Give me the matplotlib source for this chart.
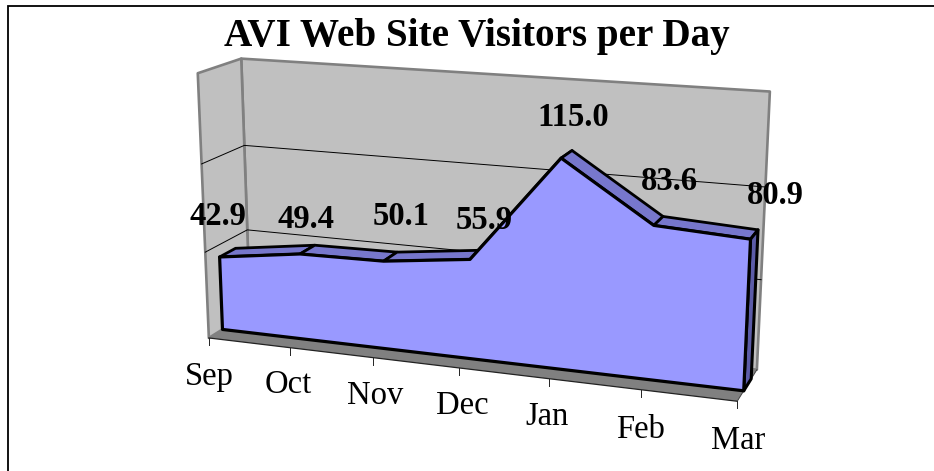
import matplotlib
matplotlib.use("Agg")
import matplotlib.pyplot as plt
import numpy as np
from matplotlib.patches import Polygon

categories = ["Sep", "Oct", "Nov", "Dec", "Jan", "Feb", "Mar"]
visitors = [42.9, 49.4, 50.1, 55.9, 115.0, 83.6, 80.9]
value_labels = ["42.9", "49.4", "50.1", "55.9", "115.0", "83.6", "80.9"]
gridlines = [50, 100]
y_max = 150

title = "AVI Web Site Visitors per Day"

# where the 3D box lands in the picture: (x, value share, depth) -> pixel
box_corners = {
    (0, 0, 0): (208, 337),
    (1, 0, 0): (736, 401),
    (0, 1, 0): (198, 75),
    (1, 1, 0): (752, 109),
    (0, 0, 1): (251, 313),
    (1, 0, 1): (758, 370),
    (0, 1, 1): (241, 57),
    (1, 1, 1): (768, 92),
}
area_front = 0.32
area_back = 0.70

# text anchors in pixels (centre x, baseline y)
label_xy = [(218, 225), (306, 228), (401, 225), (484, 229), (573, 126), (669, 190), (775, 204)]
category_xy = [(209, 385), (288, 393), (375, 404), (462, 414), (547, 425), (641, 438), (738, 449)]

WALL = "#c0c0c0"
WALL_EDGE = "#808080"
FRONT = "#9999ff"
TOP = "#7777cc"
SIDE = "#5c5ca8"


def fit_projection():
    rows, rhs = [], []
    for (x, y, z), (px, py) in box_corners.items():
        rows.append([x, y, z, 1, 0, 0, 0, 0, -px * x, -px * y, -px * z])
        rows.append([0, 0, 0, 0, x, y, z, 1, -py * x, -py * y, -py * z])
        rhs += [px, py]
    sol = np.linalg.lstsq(np.array(rows, float), np.array(rhs, float), rcond=None)[0]
    return np.append(sol, 1).reshape(3, 4)


P = fit_projection()


def project(i, value, depth):
    # i is a category position, value is in data units
    p = P @ np.array([i / (len(categories) - 1), value / y_max, depth, 1.0])
    return p[0] / p[2], p[1] / p[2]


last = len(categories) - 1

fig = plt.figure(figsize=(9.34, 4.71), dpi=100, facecolor="white")
ax = fig.add_axes([0, 0, 1, 1])
ax.set_xlim(0, 934)
ax.set_ylim(471, 0)
ax.axis("off")

# frame
ax.plot([7.5, 7.5, 934], [471, 5.5, 5.5], color="black", lw=1.3, solid_joinstyle="miter")

# walls and floor
back = [project(0, 0, 1), project(last, 0, 1), project(last, y_max, 1), project(0, y_max, 1)]
side = [project(0, 0, 0), project(0, 0, 1), project(0, y_max, 1), project(0, y_max, 0)]
floor = [project(0, 0, 0), project(last, 0, 0), project(last, 0, 1), project(0, 0, 1)]
ax.add_patch(Polygon(back, facecolor=WALL, edgecolor=WALL_EDGE, lw=1.9, joinstyle="round", zorder=1))
ax.add_patch(Polygon(side, facecolor=WALL, edgecolor=WALL_EDGE, lw=1.9, joinstyle="round", zorder=1))
ax.add_patch(Polygon(floor, facecolor=WALL_EDGE, edgecolor="none", zorder=2))

for g in gridlines:
    pts = [project(0, g, 0), project(0, g, 1), project(last, g, 1)]
    ax.plot(*zip(*pts), color="black", lw=0.7, zorder=2)

# floor front edge and ticks
ax.plot(*zip(project(0, 0, 0), project(last, 0, 0)), color="#222222", lw=0.9, zorder=3)
ax.plot(*zip(project(last, 0, 0), project(last, 0, 1)), color="#444444", lw=0.7, zorder=3)
for i in range(len(categories)):
    tx, ty = project(i, 0, 0)
    ax.plot([tx, tx], [ty, ty + 7], color="#222222", lw=0.7, zorder=3)

# top facets of the area ribbon
for i in range(last):
    a, b = visitors[i], visitors[i + 1]
    facet = [project(i, a, area_front), project(i + 1, b, area_front),
             project(i + 1, b, area_back), project(i, a, area_back)]
    ax.add_patch(Polygon(facet, facecolor=TOP, edgecolor="black", lw=2.0, joinstyle="round", zorder=4))

# right side of the ribbon
right = [project(last, 0, area_front), project(last, visitors[-1], area_front),
         project(last, visitors[-1], area_back), project(last, 0, area_back)]
ax.add_patch(Polygon(right, facecolor=SIDE, edgecolor="black", lw=2.2, joinstyle="round", zorder=5))

# front of the ribbon
front = [project(i, v, area_front) for i, v in enumerate(visitors)]
front += [project(last, 0, area_front), project(0, 0, area_front)]
ax.add_patch(Polygon(front, facecolor=FRONT, edgecolor="black", lw=2.3, joinstyle="round", zorder=6))

serif = "Liberation Serif"
ax.text(477, 46, title, family=serif, weight="bold", fontsize=28.2, ha="center", va="baseline", zorder=8)
for text, (x, y) in zip(value_labels, label_xy):
    ax.text(x, y, text, family=serif, weight="bold", fontsize=23.5, ha="center", va="baseline", zorder=8)
for text, (x, y) in zip(categories, category_xy):
    ax.text(x, y, text, family=serif, fontsize=23.5, ha="center", va="baseline", zorder=8)

fig.savefig("out.png", dpi=100)
plt.close(fig)
